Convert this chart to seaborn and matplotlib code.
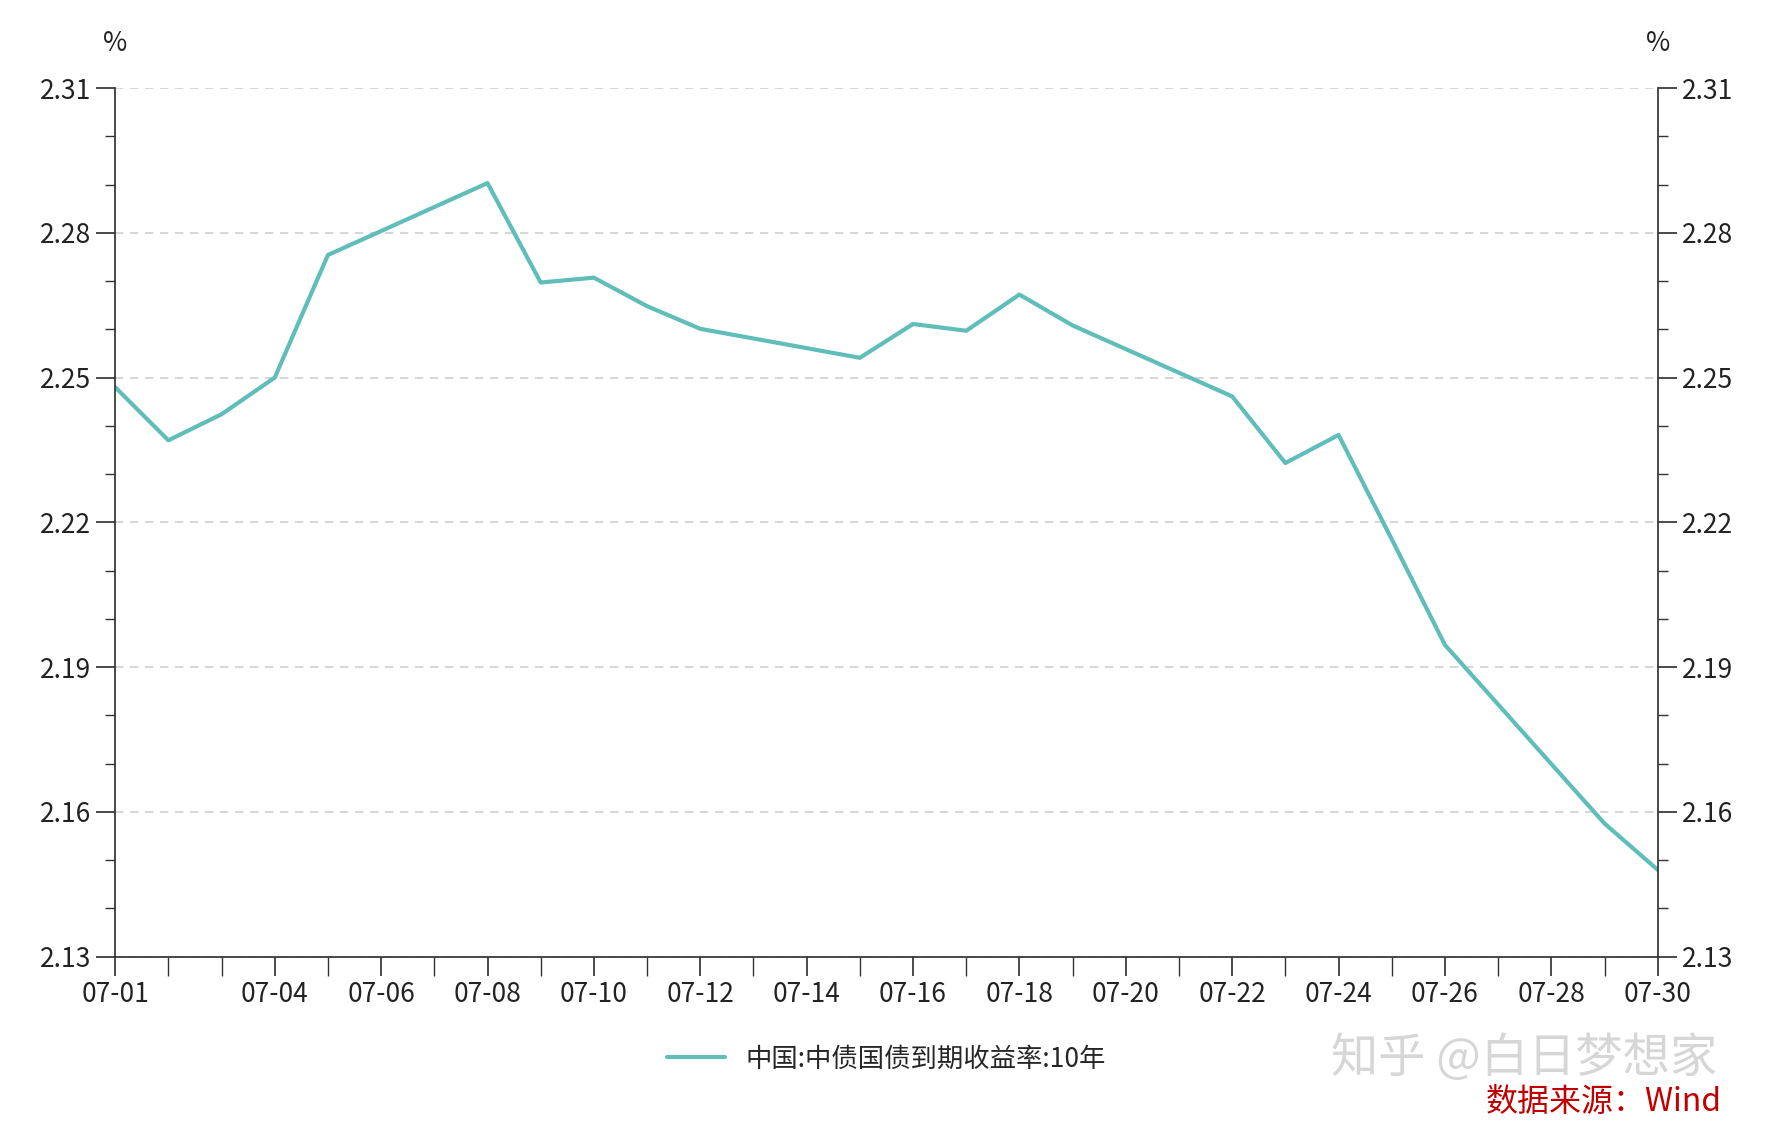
import matplotlib
matplotlib.use("Agg")
import matplotlib.pyplot as plt
import seaborn as sns
import pandas as pd
from matplotlib.ticker import MultipleLocator

sns.set_theme(style="white")
plt.rcParams['font.family'] = ['Noto Sans CJK SC', 'DejaVu Sans']

days = [1, 2, 3, 4, 5, 8, 9, 10, 11, 12, 15, 16, 17, 18, 19, 22, 23, 24, 25, 26, 29, 30]
values = [2.248, 2.237, 2.2424, 2.250, 2.2754, 2.2903, 2.2697, 2.2707, 2.2648, 2.2601,
          2.2541, 2.2611, 2.2597, 2.2672, 2.2608, 2.2461, 2.2323, 2.2381, 2.2165, 2.1946,
          2.1576, 2.148]
series_name = "中国:中债国债到期收益率:10年"
tick_days = [1] + list(range(4, 31, 2))
tick_labels = ["07-%02d" % d for d in tick_days]
yticks = [2.13, 2.16, 2.19, 2.22, 2.25, 2.28, 2.31]

df = pd.DataFrame({"day": days, "value": values})

fig = plt.figure(figsize=(17.72, 11.43), dpi=100)
ax = fig.add_axes([0.065, 0.163, 0.8705, 0.76])
sns.lineplot(data=df, x="day", y="value", ax=ax, color="#5FBDBA", linewidth=3, label=series_name)
ax.set_xlim(1, 30)
ax.set_ylim(2.13, 2.31)
ax.set_yticks(yticks)
ax.set_yticklabels([f"{v:.2f}" for v in yticks])
ax.yaxis.set_minor_locator(MultipleLocator(0.01))
ax.set_xticks(tick_days)
ax.set_xticklabels(tick_labels)
ax.xaxis.set_minor_locator(MultipleLocator(1))
ax.set_xlabel(""); ax.set_ylabel("")
for s in ["top", "right"]:
    ax.spines[s].set_visible(False)
ax.spines["left"].set_color("#333333"); ax.spines["bottom"].set_color("#333333")
ax.tick_params(axis="both", which="both", direction="out", color="#333333", labelsize=19, labelcolor="#222222")
ax.tick_params(axis="y", which="major", length=14, left=True)
ax.tick_params(axis="y", which="minor", length=7, left=True)
ax.tick_params(axis="x", which="major", length=14, bottom=True)
ax.tick_params(axis="x", which="minor", length=14, bottom=True)
ax.grid(axis="y", which="major", linestyle=(0, (5, 4)), color="#d0d0d0", linewidth=1.2)
ax.set_axisbelow(True)

ax2 = ax.twinx()
ax2.set_ylim(2.13, 2.31)
ax2.set_yticks(yticks)
ax2.set_yticklabels([f"{v:.2f}" for v in yticks])
ax2.yaxis.set_minor_locator(MultipleLocator(0.01))
for s in ["top", "left", "bottom"]:
    ax2.spines[s].set_visible(False)
ax2.spines["right"].set_color("#333333")
ax2.tick_params(axis="y", which="both", direction="out", color="#333333", labelsize=19, labelcolor="#222222")
ax2.tick_params(axis="y", which="major", length=14)
ax2.tick_params(axis="y", which="minor", length=7)
ax2.grid(False)

fig.text(0.065, 0.955, "%", ha="center", fontsize=19, color="#222222")
fig.text(0.9355, 0.955, "%", ha="center", fontsize=19, color="#222222")

ax.legend(loc="upper center", bbox_to_anchor=(0.5, -0.075), frameon=False, fontsize=19,
          handlelength=2.2)
fig.text(0.86, 0.062, "知乎 @白日梦想家", ha="center", fontsize=34, color="#bbbbbb", alpha=0.6)
fig.text(0.905, 0.028, "数据来源：Wind", ha="center", fontsize=23, color="#c00000")
fig.savefig("out.png", dpi=100, facecolor="white")
